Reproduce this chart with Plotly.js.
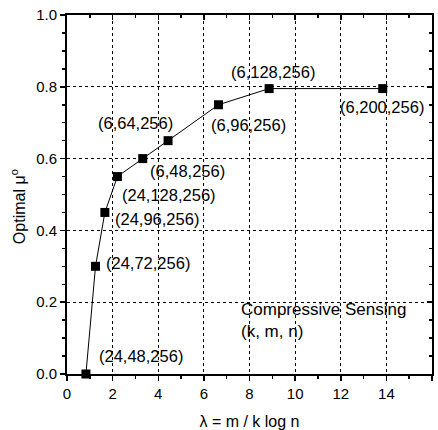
<!DOCTYPE html>
<html>
<head>
<meta charset="utf-8">
<script src="https://cdn.plot.ly/plotly-3.0.1.min.js"></script>
<style>html,body{margin:0;padding:0;background:#fff;}#chart{width:438px;height:430px;}</style>
</head>
<body>
<div id="chart"></div>
<script>
var kVals = [24, 24, 24, 24, 6, 6, 6, 6, 6];
var mVals = [48, 72, 96, 128, 48, 64, 96, 128, 200];
var nVals = [256, 256, 256, 256, 256, 256, 256, 256, 256];
var lambdaVals = [0.83, 1.25, 1.66, 2.21, 3.32, 4.43, 6.64, 8.86, 13.84];
var muVals = [0.0, 0.30, 0.45, 0.55, 0.60, 0.65, 0.75, 0.795, 0.795];
var xTicks = [0, 2, 4, 6, 8, 10, 12, 14, 16];
var yTicks = [0.0, 0.2, 0.4, 0.6, 0.8, 1.0];

// label placement (offsets in px, anchor)
var labelShift = [
  [55, 18, 'center'], [8, 3, 'left'], [8, -7, 'left'], [3, -18, 'left'],
  [5, -12, 'left'], [-33, 18, 'center'], [-9, -20, 'left'], [4, 17, 'center'], [-1, -18, 'center']
];

var F = 'Arial, "Liberation Sans", Helvetica, sans-serif';

var annotations = lambdaVals.map(function(x, i){
  return {
    x: x, y: muVals[i], xref: 'x', yref: 'y', showarrow: false,
    text: '(' + kVals[i] + ',' + mVals[i] + ',' + nVals[i] + ')',
    xanchor: labelShift[i][2], yanchor: 'middle',
    xshift: labelShift[i][0], yshift: labelShift[i][1],
    font: {family: F, size: 16.5, color: '#000'}
  };
});
annotations.push({
  x: 7.55, y: 0.15, xref: 'x', yref: 'y', showarrow: false,
  xanchor: 'left', yanchor: 'middle', align: 'left',
  text: 'Compressive Sensing<br>(k, m, n)',
  font: {family: F, size: 17, color: '#000'}
});
annotations.push({
  x: -0.134, y: 0.465, xref: 'paper', yref: 'paper', showarrow: false,
  textangle: -90, xanchor: 'center', yanchor: 'middle',
  text: 'Optimal μ<sup>o</sup>',
  font: {family: F, size: 16, color: '#000'}
});

var trace = {
  x: lambdaVals, y: muVals, type: 'scatter', mode: 'lines+markers',
  line: {color: '#000', width: 1},
  marker: {symbol: 'square', size: 9, color: '#000'},
  cliponaxis: false, hoverinfo: 'skip'
};
var dummy = {x: [0], y: [0], xaxis: 'x2', yaxis: 'y2', mode: 'markers', marker: {opacity: 0}, hoverinfo: 'skip', showlegend: false};

var layout = {
  width: 438, height: 430,
  margin: {l: 67, r: 6, t: 15, b: 56},
  paper_bgcolor: '#fff', plot_bgcolor: '#fff',
  showlegend: false,
  font: {family: F, color: '#000'},
  xaxis: {
    range: [0, 16], tickvals: xTicks, ticktext: xTicks.map(String),
    showgrid: true, gridcolor: '#000', gridwidth: 1, griddash: 'dot',
    showline: true, linecolor: '#000', linewidth: 2,
    ticks: 'outside', ticklen: 5, tickwidth: 1.5, tickcolor: '#000',
    minor: {dtick: 1, ticks: 'outside', ticklen: 3, tickcolor: '#000', showgrid: false},
    zeroline: false, tickfont: {family: F, size: 15},
    title: {text: 'λ = m / k log n', font: {family: F, size: 16}, standoff: 16}
  },
  yaxis: {
    range: [0, 1], tickvals: yTicks, ticktext: yTicks.map(function(v){return v.toFixed(1);}),
    showgrid: true, gridcolor: '#000', gridwidth: 1, griddash: 'dot',
    showline: true, linecolor: '#000', linewidth: 2,
    ticks: 'outside', ticklen: 5, tickwidth: 1.5, tickcolor: '#000',
    minor: {dtick: 0.05, ticks: 'outside', ticklen: 3, tickcolor: '#000', showgrid: false},
    zeroline: false, tickfont: {family: F, size: 15}
  },
  xaxis2: {
    overlaying: 'x', side: 'top', range: [0, 16], tickvals: xTicks, showticklabels: false,
    showgrid: false, showline: true, linecolor: '#000', linewidth: 2,
    ticks: 'inside', ticklen: 5, tickwidth: 1.5, tickcolor: '#000',
    minor: {dtick: 1, ticks: 'inside', ticklen: 3, tickcolor: '#000', showgrid: false},
    zeroline: false
  },
  yaxis2: {
    overlaying: 'y', side: 'right', range: [0, 1], tickvals: yTicks, showticklabels: false,
    showgrid: false, showline: true, linecolor: '#000', linewidth: 2,
    ticks: 'inside', ticklen: 5, tickwidth: 1.5, tickcolor: '#000',
    minor: {dtick: 0.05, ticks: 'inside', ticklen: 3, tickcolor: '#000', showgrid: false},
    zeroline: false
  },
  annotations: annotations
};

Plotly.newPlot('chart', [dummy, trace], layout, {staticPlot: true, displayModeBar: false});
</script>
</body>
</html>
